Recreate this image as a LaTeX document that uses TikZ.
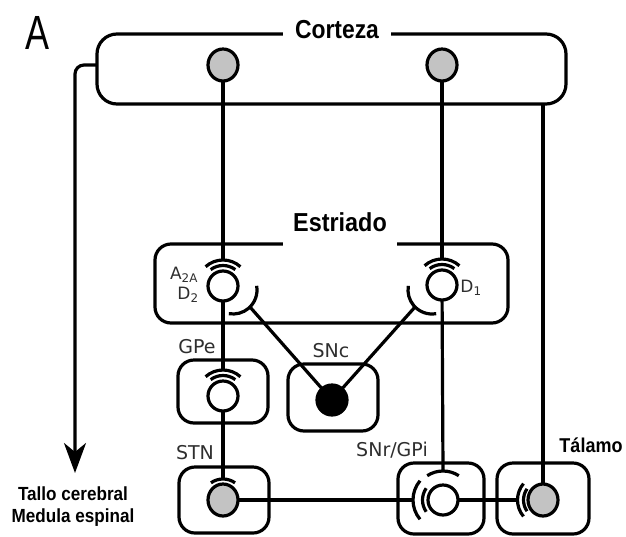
\documentclass[tikz,border=0pt]{standalone}
\usepackage{fontspec}
\setmainfont{Liberation Sans}
\newfontfamily\dvs{DejaVu Sans}
\usetikzlibrary{arrows.meta,shapes.geometric}
\definecolor{cellgray}{HTML}{C3C3C3}
\definecolor{labgray}{HTML}{2E2E2E}
\newcommand\recTop[1]{%
  \draw[ln] ([shift={(228:26)}]#1.center) arc[start angle=228,end angle=312,radius=26];
  \draw[ln] ([shift={(233:20.5)}]#1.center) arc[start angle=233,end angle=307,radius=20.5];}
\newcommand\recLeft[3]{%
  \draw[ln] ([shift={(140:#3)}]#1.center) arc[start angle=140,end angle=220,radius=#3];
  \draw[ln] ([shift={(145:#2)}]#1.center) arc[start angle=145,end angle=215,radius=#2];}
\begin{document}
\begin{tikzpicture}[x=1pt,y=-1pt,
  ln/.style={line width=3.2pt},
  bx/.style={draw, rectangle, line width=3.2pt, rounded corners=16pt, inner sep=0pt, outer sep=0pt},
  wcell/.style={draw, circle, line width=3.2pt, minimum size=30pt, inner sep=0pt, outer sep=0pt, fill=white},
  gcell/.style={draw, ellipse, line width=3.2pt, minimum width=30pt, minimum height=32pt, inner sep=0pt, outer sep=0pt, fill=cellgray},
  bcell/.style={draw, circle, line width=3.2pt, minimum size=30pt, inner sep=0pt, outer sep=0pt, fill=black},
  big/.style={font=\fontsize{26}{26}\selectfont\bfseries, fill=white},
  small/.style={font=\dvs\fontsize{19}{19}\selectfont, text=labgray, inner sep=0pt},
  rec/.style={font=\dvs\fontsize{17}{17}\selectfont, text=labgray, inner sep=0pt},
  side/.style={font=\fontsize{19}{22}\selectfont\bfseries, inner sep=0pt, align=center}
]
\useasboundingbox (0,0) rectangle (626,536);

% boxes
\node[bx, rounded corners=20pt, minimum width=469pt, minimum height=70pt] (ctx) at (331.5,69) {};
\node[bx, minimum width=353pt, minimum height=79pt] (str) at (331.5,283.5) {};
\node[bx, minimum width=90pt, minimum height=63pt] (gpeb) at (223,391.5) {};
\node[bx, minimum width=90pt, minimum height=67pt] (sncb) at (333,397.5) {};
\node[bx, minimum width=90pt, minimum height=66pt] (stnb) at (224,500) {};
\node[bx, minimum width=86pt, minimum height=71pt] (snrb) at (441,498.5) {};
\node[bx, minimum width=92pt, minimum height=71pt] (thab) at (543,498.5) {};

% cells
\node[gcell] (c1) at (223,65) {};
\node[gcell] (c2) at (442,65) {};
\node[wcell] (sL) at (223,286) {};
\node[wcell] (sR) at (442,285) {};
\node[wcell] (gpe) at (223,396) {};
\node[bcell] (snc) at (332,400) {};
\node[gcell] (stn) at (223,500) {};
\node[wcell] (snr) at (443,500) {};
\node[gcell] (thal) at (543,500) {};
\coordinate (cupL) at (233,290);
\coordinate (cupR) at (432,290);
\coordinate (tallo) at (75,473);

% receptors
\recTop{sL}
\recTop{sR}
\recTop{gpe}
\draw[ln] ([shift={(235:21)}]stn.center) arc[start angle=235,end angle=305,radius=21];
\draw[ln] ([shift={(237:29)}]snr.center) arc[start angle=237,end angle=303,radius=29];
\recLeft{snr}{20.5}{30}
\recLeft{thal}{19.5}{25.5}
\draw[ln] ([shift={(-10:24)}]cupL) arc[start angle=-10,end angle=100,radius=24];
\draw[ln] ([shift={(80:24)}]cupR) arc[start angle=80,end angle=190,radius=24];

% connections
\draw[ln] (c1) -- ([yshift=26pt]sL.center);
\draw[ln] (sL) -- ([yshift=26pt]gpe.center);
\draw[ln] (gpe) -- ([yshift=21pt]stn.center);
\draw[ln] (c2) -- ([yshift=26pt]sR.center);
\draw[ln] (sR) -- ([yshift=29pt]snr.center);
\draw[ln] (ctx.south -| thal) -- (thal);
\draw[ln] (stn) -- ([xshift=-30pt]snr.center);
\draw[ln] (snr) -- ([xshift=-25.5pt]thal.center);
\draw[ln] ([shift={(45:24)}]cupL) -- (snc);
\draw[ln] ([shift={(135:24)}]cupR) -- (snc);
\draw[ln, rounded corners=9pt, -{Stealth[length=30pt,width=22pt,inset=9pt]}] (ctx.west |- c1) -| (tallo);

% labels
\node[font=\fontsize{48}{48}\selectfont, inner sep=0pt] (tA) at (38,33) {\scalebox{0.75}[1]{A}};
\node[big, inner xsep=12pt, inner ysep=4pt] (tctx) at (337,30) {\scalebox{0.88}[1]{Corteza}};
\node[big, inner xsep=10pt, inner ysep=14pt] (tstr) at (340,222) {\scalebox{0.9}[1]{Estriado}};
\node[rec] (ta2a) at (184,275) {A\textsubscript{2A}};
\node[rec] (td2) at (188,295) {D\textsubscript{2}};
\node[rec] (td1) at (471,288) {D\textsubscript{1}};
\node[small] (tgpe) at (197,347) {GPe};
\node[small] (tsnc) at (331,351) {SNc};
\node[small] (tstn) at (195,453) {STN};
\node[small] (tsnr) at (392,450) {SNr/GPi};
\node[font=\fontsize{20}{20}\selectfont\bfseries, inner sep=0pt] (ttal) at (591,445) {\scalebox{0.9}[1]{Tálamo}};
\node[side] (tmed) at (73,507) {\scalebox{0.9}[1]{Tallo cerebral}\\\scalebox{0.9}[1]{Medula espinal}};
\end{tikzpicture}
\end{document}
